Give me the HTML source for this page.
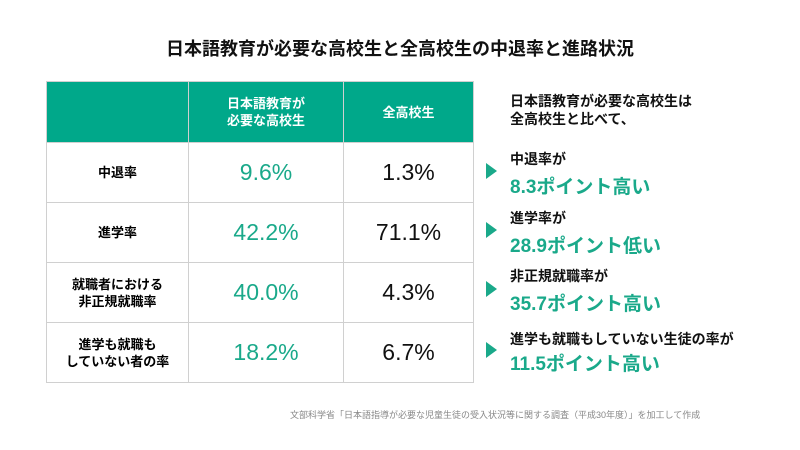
<!DOCTYPE html>
<html><head><meta charset="utf-8"><style>
body{margin:0;width:800px;height:450px;background:#fff;font-family:"Liberation Sans","Noto Sans CJK JP",sans-serif;position:relative;overflow:hidden}
.a{position:absolute;white-space:nowrap}
table{position:absolute;left:46px;top:81px;border-collapse:collapse;width:428px}
td,th{border:1px solid #d0d0d0;text-align:center;padding:0;height:59px}
th{background:#00a88a;color:#fff;font-size:13px;font-weight:bold;line-height:17px;height:60px}
td.l{font-size:13px;font-weight:bold;line-height:17px;width:141px}
td.g{color:#1aa98a;font-size:23px}
td.b{color:#111;font-size:23px}
.tri{position:absolute;width:0;height:0;border-top:8px solid transparent;border-bottom:8px solid transparent;border-left:11px solid #1aa98a}
.lab{font-size:14px;font-weight:bold;color:#111}
.val{font-size:19px;font-weight:bold;color:#1aa98a}
</style></head><body>
<div class="a" style="left:0;width:800px;text-align:center;top:35px;font-size:18px;font-weight:bold;color:#111">日本語教育が必要な高校生と全高校生の中退率と進路状況</div>
<table>
<tr><th style="width:141px"></th><th>日本語教育が<br>必要な高校生</th><th>全高校生</th></tr>
<tr><td class="l">中退率</td><td class="g">9.6%</td><td class="b">1.3%</td></tr>
<tr><td class="l">進学率</td><td class="g">42.2%</td><td class="b">71.1%</td></tr>
<tr><td class="l">就職者における<br>非正規就職率</td><td class="g">40.0%</td><td class="b">4.3%</td></tr>
<tr><td class="l">進学も就職も<br>していない者の率</td><td class="g">18.2%</td><td class="b">6.7%</td></tr>
</table>
<div class="a" style="left:510px;top:92px;font-size:14px;font-weight:bold;color:#111;line-height:18px">日本語教育が必要な高校生は<br>全高校生と比べて、</div>
<div class="tri" style="left:486px;top:163px"></div>
<div class="a lab" style="left:510px;top:149px">中退率が</div>
<div class="a val" style="left:510px;top:172px">8.3ポイント高い</div>
<div class="tri" style="left:486px;top:222px"></div>
<div class="a lab" style="left:510px;top:208px">進学率が</div>
<div class="a val" style="left:510px;top:231px">28.9ポイント低い</div>
<div class="tri" style="left:486px;top:281px"></div>
<div class="a lab" style="left:510px;top:266px">非正規就職率が</div>
<div class="a val" style="left:510px;top:289px">35.7ポイント高い</div>
<div class="tri" style="left:486px;top:342px"></div>
<div class="a lab" style="left:510px;top:329px">進学も就職もしていない生徒の率が</div>
<div class="a val" style="left:510px;top:349px">11.5ポイント高い</div>
<div class="a" style="left:290px;top:408px;font-size:9px;color:#888">文部科学省「日本語指導が必要な児童生徒の受入状況等に関する調査（平成30年度）」を加工して作成</div>
</body></html>
